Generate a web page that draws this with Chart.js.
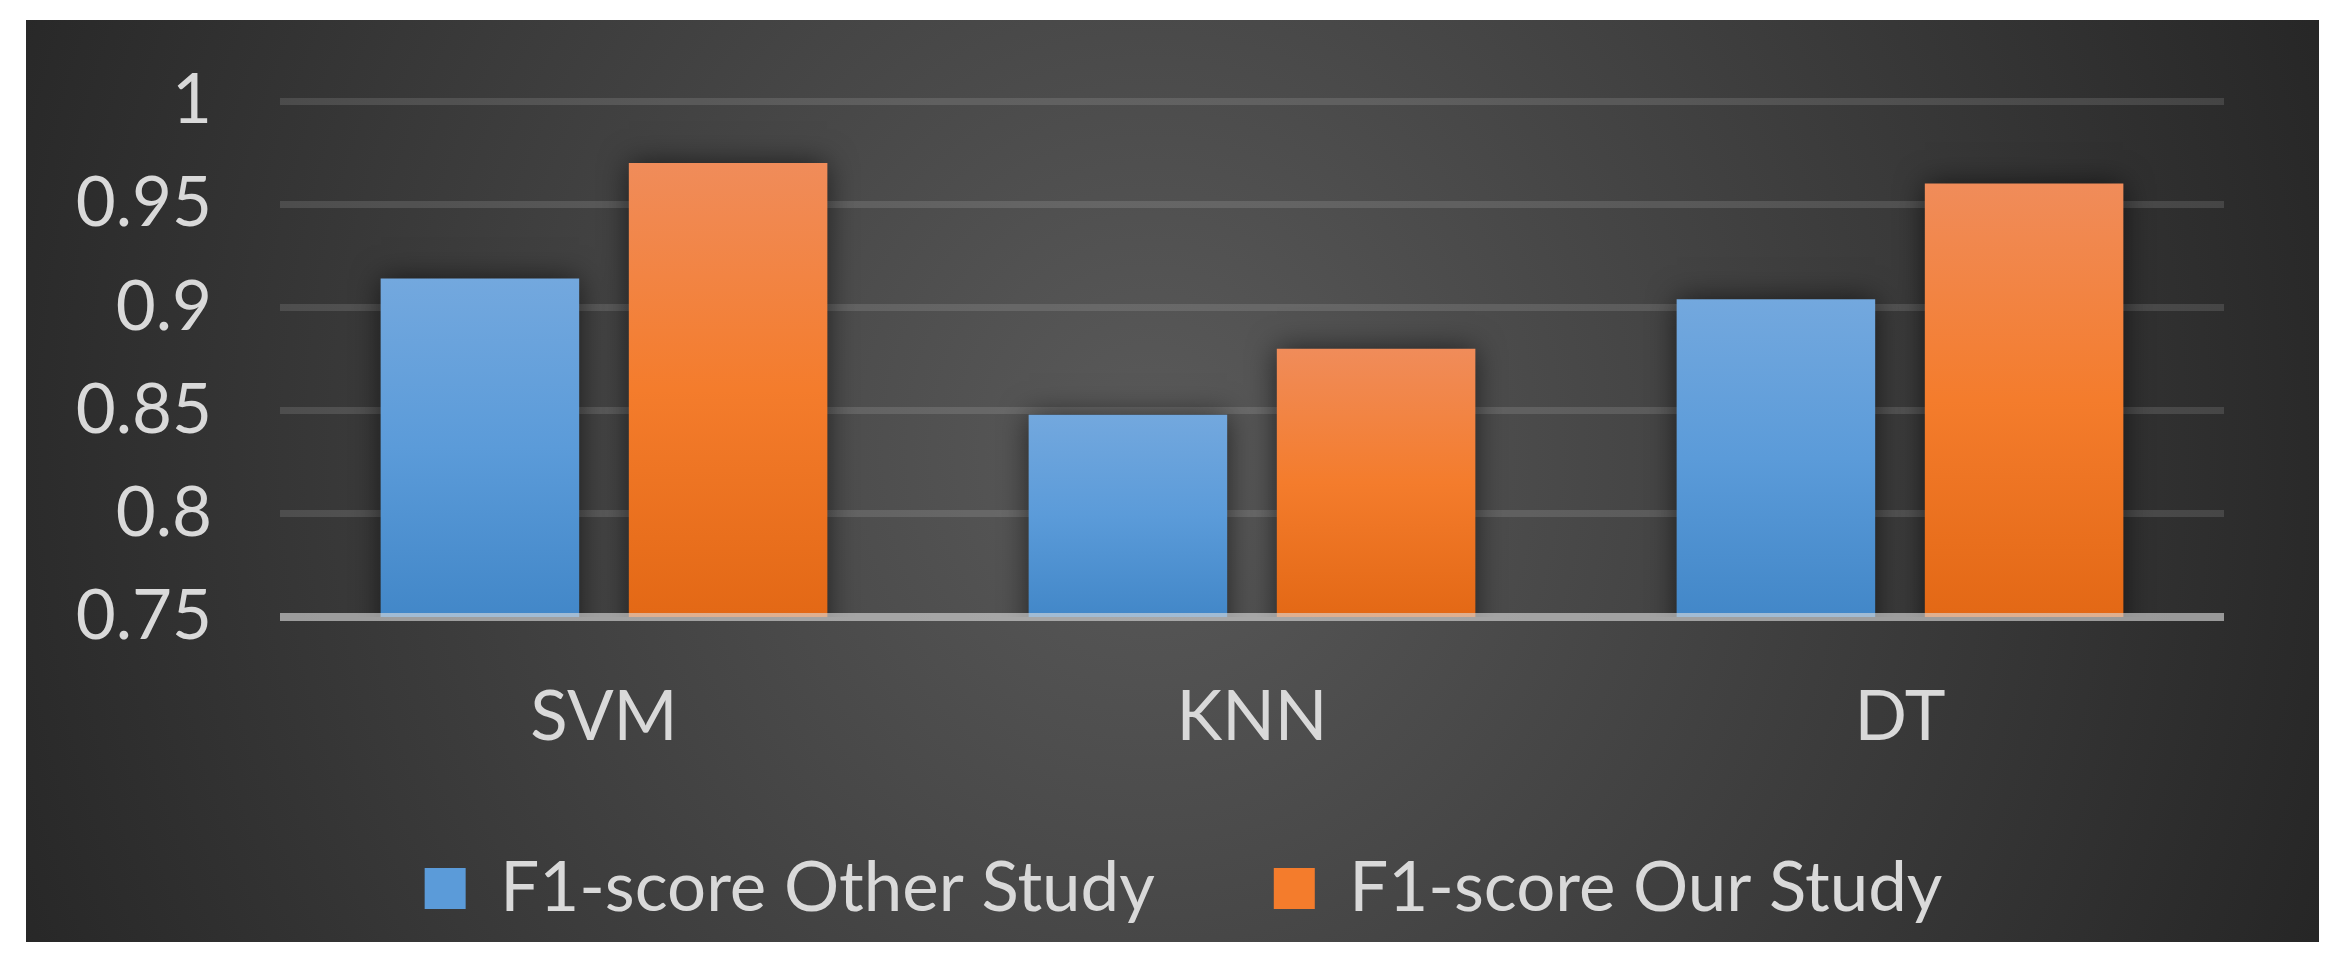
<!DOCTYPE html>
<html>
<head>
<meta charset="utf-8">
<script src="https://cdn.jsdelivr.net/npm/chart.js@4.4.1/dist/chart.umd.min.js"></script>
<style>
  html, body { margin: 0; padding: 0; background: #ffffff; }
  body { width: 2335px; height: 963px; position: relative; overflow: hidden; }
  #panel {
    position: absolute; left: 26px; top: 20px; width: 2293px; height: 922px;
    background: radial-gradient(ellipse 1250px 1350px at 1124px 430px, #5a5a5a 0%, #262626 100%);
  }
</style>
</head>
<body>
<div id="panel"><canvas id="myChart"></canvas></div>
<script>
"use strict"

// categories and the two series
let models = ["SVM", "KNN", "DT"];
let otherStudy = [0.914, 0.848, 0.904];
let ourStudy = [0.970, 0.880, 0.960];
let seriesNames = ["F1-score Other Study", "F1-score Our Study"];
// y axis ticks
let yTicks = [0.75, 0.8, 0.85, 0.9, 0.95, 1];
let yTickLabels = ["0.75", "0.8", "0.85", "0.9", "0.95", "1"];

let textColor = "#d9d9d9";
let font = { family: "Lato", size: 69 };
let legendGap = 119;

// vertical gradient over each bar, light at top, darker at the base
function barGradient(context, stops) {
  let chart = context.chart;
  if (!chart.chartArea || context.raw === undefined) return stops[1];
  let y = chart.scales.y;
  let top = y.getPixelForValue(context.raw);
  let bottom = y.getPixelForValue(y.min);
  if (!isFinite(top) || !isFinite(bottom) || top === bottom) return stops[1];
  let g = chart.ctx.createLinearGradient(0, top, 0, bottom);
  g.addColorStop(0, stops[0]);
  g.addColorStop(0.5, stops[1]);
  g.addColorStop(1, stops[2]);
  return g;
}

let blueStops = ["#73a8de", "#5b9bd9", "#4287c8"];
let orangeStops = ["#f08c5a", "#f47c2c", "#e36815"];

// soft shadow round the bars and the light base line on top of them
const barShadow = {
  id: "barShadow",
  beforeDatasetsDraw(chart) {
    let c = chart.ctx;
    c.save();
    c.shadowColor = "rgba(0,0,0,0.6)";
    c.shadowBlur = 28;
  },
  afterDatasetsDraw(chart) {
    let c = chart.ctx;
    c.restore();
    let area = chart.chartArea;
    let y = chart.scales.y.getPixelForValue(yTicks[0]);
    c.save();
    c.strokeStyle = "rgba(220,220,220,0.62)";
    c.lineWidth = 8;
    c.beginPath();
    c.moveTo(area.left, y);
    c.lineTo(area.right, y);
    c.stroke();
    c.restore();
  }
};

// the legend padding also spaces the items apart, so pull the legend box up
// after layout to keep the row where it belongs
const legendShift = {
  id: "legendShift",
  afterLayout(chart) {
    let lg = chart.legend;
    if (!lg) return;
    let bottom = lg.bottom;
    lg.top = chart.height - 88 - legendGap;
    lg.height = bottom - lg.top;
  }
};

const ctx = document.getElementById("myChart").getContext("2d");
const myChart = new Chart(ctx, {
  type: "bar",
  data: {
    labels: models,
    datasets: [
      {
        label: seriesNames[0],
        data: otherStudy,
        backgroundColor: (c) => barGradient(c, blueStops),
        categoryPercentage: 0.766,
        barPercentage: 0.8,
        borderWidth: 0
      },
      {
        label: seriesNames[1],
        data: ourStudy,
        backgroundColor: (c) => barGradient(c, orangeStops),
        categoryPercentage: 0.766,
        barPercentage: 0.8,
        borderWidth: 0
      }
    ]
  },
  options: {
    responsive: true,
    maintainAspectRatio: false,
    animation: false,
    layout: { padding: { top: 81, left: 22, right: 0, bottom: 9 } },
    plugins: {
      tooltip: { enabled: false },
      legend: {
        position: "bottom",
        maxHeight: 99,
        labels: {
          color: textColor,
          font: font,
          boxWidth: 41,
          boxHeight: 41,
          padding: legendGap,
          generateLabels(chart) {
            let flat = [blueStops[1], orangeStops[1]];
            return chart.data.datasets.map((ds, i) => ({
              text: ds.label,
              fillStyle: flat[i],
              strokeStyle: flat[i],
              lineWidth: 0,
              fontColor: textColor,
              hidden: false,
              datasetIndex: i
            }));
          }
        }
      }
    },
    scales: {
      x: {
        grid: { display: false, drawTicks: false },
        border: { display: false },
        ticks: { color: textColor, font: font, padding: 59 },
        afterFit(scale) { scale.height = 217; }
      },
      y: {
        min: 0.75,
        max: 1,
        grid: {
          drawTicks: false,
          lineWidth: 7,
          color: (c) => (c.tick && c.tick.value === yTicks[0]) ? "rgba(0,0,0,0)" : "rgba(255,255,255,0.12)"
        },
        border: { display: false },
        afterBuildTicks(scale) {
          scale.ticks = yTicks.map((v) => ({ value: v }));
        },
        ticks: {
          color: textColor,
          font: font,
          padding: 68,
          callback: (v) => yTickLabels[yTicks.indexOf(+v.toFixed(2))]
        },
        afterFit(scale) {
          scale.width = 232;
          scale.paddingTop = 0;
          scale.paddingBottom = 0;
        }
      },
      yRight: {
        position: "right",
        min: 0,
        max: 1,
        grid: { display: false, drawTicks: false },
        border: { display: false },
        ticks: { display: false },
        afterFit(scale) { scale.width = 95; }
      }
    }
  },
  plugins: [barShadow, legendShift]
});
</script>
</body>
</html>
